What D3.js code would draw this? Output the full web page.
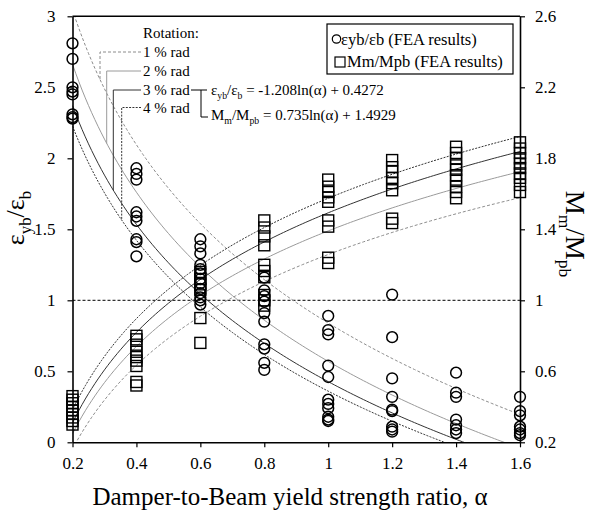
<!DOCTYPE html>
<html><head><meta charset="utf-8">
<script src="https://cdn.jsdelivr.net/npm/d3@7"></script>
<style>
body{margin:0;background:#fff;}
svg{display:block;}
</style>
</head><body>
<svg id="chart" width="589" height="513"></svg>
<script>
// ---------- data ----------
const alphaTicks = [0.2, 0.4, 0.6, 0.8, 1.0, 1.2, 1.4, 1.6];
const leftTicks = [0, 0.5, 1, 1.5, 2, 2.5, 3];
const rightTicks = [0.2, 0.6, 1.0, 1.4, 1.8, 2.2, 2.6];

// εyb/εb FEA results at each α
const strainA02 = [2.81, 2.70, 2.50, 2.47, 2.45, 2.31, 2.29, 2.28];
const strainA04 = [1.93, 1.89, 1.85, 1.62, 1.59, 1.56, 1.43, 1.41, 1.31];
const strainA06 = [1.43, 1.38, 1.33, 1.25, 1.22, 1.19, 1.15, 1.12, 1.08, 1.05, 1.02, 1.00, 0.97];
const strainA08 = [1.16, 1.07, 1.03, 0.99, 0.91, 0.85, 0.69, 0.66, 0.56, 0.51];
const strainA10 = [0.89, 0.79, 0.76, 0.54, 0.46, 0.30, 0.27, 0.24, 0.18, 0.16, 0.15];
const strainA12 = [1.04, 0.74, 0.45, 0.32, 0.23, 0.22, 0.11, 0.09, 0.075];
const strainA14 = [0.49, 0.35, 0.32, 0.16, 0.12, 0.09, 0.065];
const strainA16 = [0.32, 0.22, 0.19, 0.11, 0.09, 0.065, 0.05];

// Mm/Mpb FEA results at each α
const momentA02 = [0.46, 0.44, 0.42, 0.40, 0.38, 0.36, 0.34, 0.32, 0.30];
const momentA04 = [0.80, 0.78, 0.75, 0.71, 0.68, 0.66, 0.63, 0.54, 0.52];
const momentA06 = [1.16, 1.12, 1.09, 1.06, 0.90, 0.76];
const momentA08 = [1.45, 1.41, 1.36, 1.31, 1.20, 1.165, 1.13, 1.03, 1.00, 0.97];
const momentA10 = [1.68, 1.64, 1.61, 1.58, 1.555, 1.45, 1.415, 1.24, 1.21];
const momentA12 = [1.79, 1.75, 1.725, 1.69, 1.66, 1.62, 1.46, 1.435];
const momentA14 = [1.865, 1.83, 1.80, 1.76, 1.735, 1.705, 1.68, 1.64, 1.61, 1.575];
const momentA16 = [1.89, 1.855, 1.83, 1.80, 1.77, 1.745, 1.715, 1.69, 1.65, 1.61];

// fitted logarithmic trend lines per rotation: y = slope*ln(α) + intercept
const rotationLabels = ["1 % rad", "2 % rad", "3 % rad", "4 % rad"];
const strainSlope = [-1.37, -1.30, -1.208, -1.16];
const strainIntercept = [0.84, 0.57, 0.4272, 0.36];
const momentSlope = [0.681, 0.71, 0.735, 0.74];
const momentIntercept = [1.258, 1.391, 1.4929, 1.575];

// ---------- layout / style ----------
const FONT = "'Liberation Serif', 'Times New Roman', serif";
const strainSets = [strainA02, strainA04, strainA06, strainA08, strainA10, strainA12, strainA14, strainA16];
const momentSets = [momentA02, momentA04, momentA06, momentA08, momentA10, momentA12, momentA14, momentA16];
const lineColor = ["#8c8c8c", "#9a9a9a", "#333", "#333"];
const lineDash = ["3,2", null, null, "2,1.3"];
const leaderX = [100, 106.7, 113.3, 121.7];
const rowBase = [57, 76, 95, 112.5];

const L = 72.5, R = 520, T = 16.3, B = 442.3;
const svg = d3.select("#chart").attr("font-family", FONT);
const x = d3.scaleLinear().domain([0.2, 1.6]).range([L, R]);
const yL = d3.scaleLinear().domain([0, 3]).range([B, T]);
const yR = d3.scaleLinear().domain([0.2, 2.6]).range([B, T]);

svg.append("defs").append("clipPath").attr("id", "clip")
  .append("rect").attr("x", L).attr("y", T).attr("width", R - L).attr("height", B - T);

function richText(g, px, py, parts, size) {
  const t = g.append("text").attr("x", px).attr("y", py).attr("font-size", size);
  let shifted = false;
  const sh = size * 0.25;
  parts.forEach(p => {
    const isSub = typeof p !== "string";
    const s = t.append("tspan").text(isSub ? p.sub : p);
    if (isSub) {
      s.attr("font-size", size * 0.65);
      if (!shifted) { s.attr("dy", sh); shifted = true; }
    } else if (shifted) { s.attr("dy", -sh); shifted = false; }
  });
  return t;
}

// dashed y=1 reference line
svg.append("line").attr("x1", L).attr("x2", R).attr("y1", yL(1)).attr("y2", yL(1))
  .attr("stroke", "#000").attr("stroke-width", 1).attr("stroke-dasharray", "3,2");

// trend curves
const alphaSamples = d3.range(0.2, 1.6001, 0.01);
const curves = svg.append("g").attr("clip-path", "url(#clip)");
rotationLabels.forEach((r, i) => {
  const ls = d3.line().x(a => x(a)).y(a => yL(strainSlope[i] * Math.log(a) + strainIntercept[i]));
  const lm = d3.line().x(a => x(a)).y(a => yR(momentSlope[i] * Math.log(a) + momentIntercept[i]));
  [ls, lm].forEach(gen => {
    curves.append("path").attr("d", gen(alphaSamples)).attr("fill", "none")
      .attr("stroke", lineColor[i]).attr("stroke-width", 1)
      .attr("stroke-dasharray", lineDash[i]);
  });
});

// markers
const marks = svg.append("g").attr("fill", "none").attr("stroke", "#000");
alphaTicks.forEach((a, k) => {
  momentSets[k].forEach(v => {
    marks.append("rect").attr("x", x(a) - 5.5).attr("y", yR(v) - 5.5)
      .attr("width", 11).attr("height", 11).attr("stroke-width", 1.4);
  });
  strainSets[k].forEach(v => {
    marks.append("circle").attr("cx", x(a)).attr("cy", yL(v)).attr("r", 5.4)
      .attr("stroke-width", 1.5);
  });
});

// axes
const fmt = d => String(+d.toFixed(2));
const axB = svg.append("g").attr("transform", `translate(0,${B})`)
  .call(d3.axisBottom(x).tickValues(alphaTicks).tickFormat(fmt).tickSize(5).tickSizeOuter(0).tickPadding(10));
const axL = svg.append("g").attr("transform", `translate(${L},0)`)
  .call(d3.axisLeft(yL).tickValues(leftTicks).tickFormat(fmt).tickSize(5).tickSizeOuter(0).tickPadding(12));
const axR = svg.append("g").attr("transform", `translate(${R},0)`)
  .call(d3.axisRight(yR).tickValues(rightTicks).tickFormat(fmt).tickSize(5).tickSizeOuter(0).tickPadding(10));
[axB, axL, axR].forEach(g => {
  g.attr("font-family", FONT).attr("font-size", 17);
  g.selectAll("text").attr("fill", "#000");
  g.select(".domain").attr("stroke", "#000").attr("stroke-width", 1.6);
  g.selectAll(".tick line").attr("stroke", "#000").attr("stroke-width", 1.2);
});
svg.append("line").attr("x1", L).attr("x2", R).attr("y1", T).attr("y2", T)
  .attr("stroke", "#000").attr("stroke-width", 1.6);

// axis titles
svg.append("text").attr("x", 290).attr("y", 505).attr("font-size", 25)
  .attr("text-anchor", "middle").text("Damper-to-Beam yield strength ratio, α");
const lt = richText(svg, 0, 0, ["ε", {sub: "yb"}, "/ε", {sub: "b"}], 26);
lt.attr("text-anchor", "middle").attr("transform", "translate(24,218) rotate(-90)");
const rt = richText(svg, 0, 0, ["M", {sub: "m"}, "/M", {sub: "pb"}], 27);
rt.attr("text-anchor", "middle").attr("transform", "translate(566,234) rotate(90)");

// rotation annotation
const ann = svg.append("g");
ann.append("text").attr("x", 143).attr("y", 38).attr("font-size", 15).text("Rotation:");
rotationLabels.forEach((r, i) => {
  ann.append("text").attr("x", 143).attr("y", rowBase[i]).attr("font-size", 15).text(r);
  const ly = rowBase[i] - 5;
  const a = x.invert(leaderX[i]);
  const cy = yL(strainSlope[i] * Math.log(a) + strainIntercept[i]);
  ann.append("path").attr("d", `M${141},${ly}H${leaderX[i]}V${cy}`)
    .attr("fill", "none").attr("stroke", lineColor[i]).attr("stroke-width", 1)
    .attr("stroke-dasharray", lineDash[i]);
});
// bracket to equations
ann.append("path").attr("d", "M191,90H207M201,90V117H208")
  .attr("fill", "none").attr("stroke", "#000").attr("stroke-width", 1);
richText(ann, 211, 95, ["ε", {sub: "yb"}, "/ε", {sub: "b"}, " = -1.208ln(α) + 0.4272"], 15);
richText(ann, 211, 120, ["M", {sub: "m"}, "/M", {sub: "pb"}, " = 0.735ln(α) + 1.4929"], 15);

// legend
const lg = svg.append("g");
lg.append("rect").attr("x", 327).attr("y", 24).attr("width", 186).attr("height", 50)
  .attr("fill", "#fff").attr("stroke", "#000").attr("stroke-width", 1.2);
lg.append("circle").attr("cx", 336.5).attr("cy", 39).attr("r", 4.2)
  .attr("fill", "none").attr("stroke", "#000").attr("stroke-width", 1.2);
lg.append("text").attr("x", 341).attr("y", 44.5).attr("font-size", 16.5).text("εyb/εb (FEA results)");
lg.append("rect").attr("x", 335).attr("y", 57).attr("width", 10).attr("height", 10)
  .attr("fill", "none").attr("stroke", "#000").attr("stroke-width", 1.2);
lg.append("text").attr("x", 347).attr("y", 67).attr("font-size", 16.5).text("Mm/Mpb (FEA results)");

svg.selectAll("text").style("font-family", FONT);
</script>
</body></html>
